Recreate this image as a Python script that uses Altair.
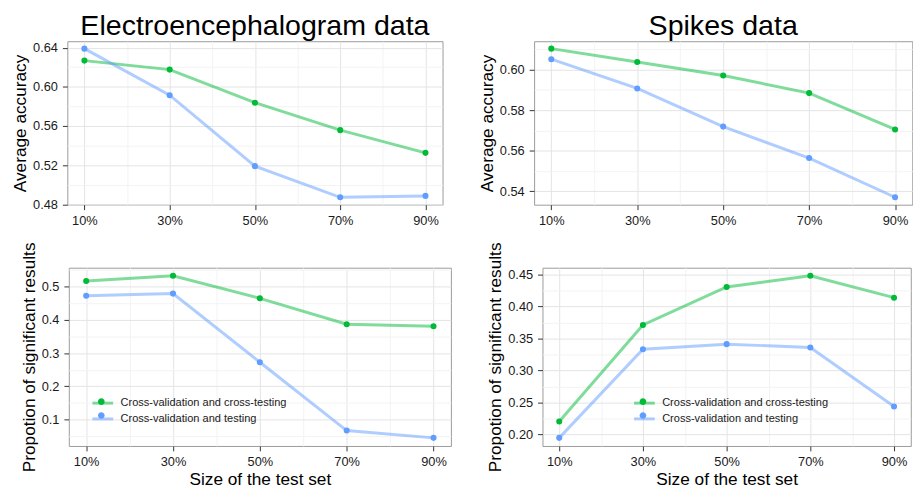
import altair as alt
import pandas as pd

# ---------------- data ----------------
sizes = [10, 30, 50, 70, 90]
series_names = ["Cross-validation and cross-testing", "Cross-validation and testing"]
series_colors = ["#00BA38", "#619CFF"]

eeg_acc_cvct = [0.6268, 0.6176, 0.5838, 0.5557, 0.5325]
eeg_acc_cvt = [0.6390, 0.5914, 0.5189, 0.4871, 0.4885]
spk_acc_cvct = [0.6103, 0.6037, 0.5971, 0.5884, 0.5705]
spk_acc_cvt = [0.6051, 0.5907, 0.5719, 0.5564, 0.5371]
eeg_sig_cvct = [0.5171, 0.5326, 0.4649, 0.3869, 0.3810]
eeg_sig_cvt = [0.4726, 0.4791, 0.2726, 0.0669, 0.0450]
spk_sig_cvct = [0.2202, 0.3712, 0.4306, 0.4480, 0.4138]
spk_sig_cvt = [0.1945, 0.3331, 0.3411, 0.3360, 0.2435]

x_breaks = [10, 20, 30, 40, 50, 60, 70, 80, 90]
x_major = [10, 30, 50, 70, 90]
eeg_acc_major = [0.48, 0.52, 0.56, 0.60, 0.64]
spk_acc_major = [0.54, 0.56, 0.58, 0.60]
eeg_sig_major = [0.1, 0.2, 0.3, 0.4, 0.5]
spk_sig_major = [0.20, 0.25, 0.30, 0.35, 0.40, 0.45]

FONT = "Liberation Sans"
MAJOR_GRID = "#e4e4e4"
MINOR_GRID = "#f3f3f3"


def major_test(majors, dec):
    parts = ["format(datum.value, '.%df') == '%s'" % (dec, format(m, ".%df" % dec)) for m in majors]
    return "(" + " || ".join(parts) + ")"


def panel(vals_a, vals_b, majors, lab_dec, ytitle, xtitle, title, w, h, legend_xy=None):
    n = len(sizes)
    df = pd.DataFrame({
        "size": sizes * 2,
        "value": vals_a + vals_b,
        "series": [series_names[0]] * n + [series_names[1]] * n,
    })
    # the point layer gets its own label-less legend; a distinct domain keeps
    # Vega-Lite from merging it with the line legend
    df["series_pt"] = df["series"] + " "
    lo, hi = min(vals_a + vals_b), max(vals_a + vals_b)
    pad = 0.05 * (hi - lo)
    dom = [lo - pad, hi + pad]
    step = majors[1] - majors[0]
    cand = [majors[0] - step / 2] + [m + step / 2 for m in majors]
    minors = [c for c in cand if dom[0] <= c <= dom[1]]
    yvals = sorted(majors + minors)

    ytest = major_test(majors, 4)
    xtest = major_test(x_major, 1)

    x_axis_kw = dict(
        values=x_breaks,
        labelExpr="%s ? datum.value + '%%' : ''" % xtest,
        gridColor={"condition": {"test": xtest, "value": MAJOR_GRID}, "value": MINOR_GRID},
        tickOpacity={"condition": {"test": xtest, "value": 1}, "value": 0},
        labelFlush=False,
        labelOverlap=False,
    )
    x_axis_kw["title"] = xtitle if xtitle else None

    x = alt.X("size:Q", scale=alt.Scale(domain=[6, 94], nice=False, zero=False),
              axis=alt.Axis(**x_axis_kw))
    y = alt.Y("value:Q", scale=alt.Scale(domain=dom, nice=False, zero=False),
              axis=alt.Axis(
                  values=yvals,
                  title=ytitle,
                  labelExpr="%s ? format(datum.value, '.%df') : ''" % (ytest, lab_dec),
                  gridColor={"condition": {"test": ytest, "value": MAJOR_GRID}, "value": MINOR_GRID},
                  tickOpacity={"condition": {"test": ytest, "value": 1}, "value": 0},
                  labelOverlap=False,
              ))

    sc_line = alt.Scale(domain=series_names, range=series_colors)
    sc_pt = alt.Scale(domain=[s + " " for s in series_names], range=series_colors)
    if legend_xy is not None:
        lx, ly = legend_xy
        common = dict(title=None, orient="none", legendX=lx, legendY=ly, padding=0,
                      direction="vertical", labelFont=FONT, labelFontSize=11.2,
                      labelColor="#1a1a1a", symbolSize=196, labelOffset=9.5, rowPadding=1,
                      labelLimit=400)
        stroke_leg = alt.Legend(symbolType="M-1.5,0H1.5", symbolStrokeWidth=3,
                                symbolOpacity=0.5, **common)
        fill_leg = alt.Legend(
            symbolType="M-0.48,0A0.48,0.48,0,1,1,0.48,0A0.48,0.48,0,1,1,-0.48,0Z",
            symbolStrokeWidth=0, symbolOpacity=1, labelExpr="''", **common)
        stroke_enc = alt.Stroke("series:N", scale=sc_line, legend=stroke_leg)
        fill_enc = alt.Fill("series_pt:N", scale=sc_pt, legend=fill_leg)
    else:
        stroke_enc = alt.Stroke("series:N", scale=sc_line, legend=None)
        fill_enc = alt.Fill("series_pt:N", scale=sc_pt, legend=None)

    base = alt.Chart(df)
    lines = base.mark_line(strokeWidth=3, opacity=0.5).encode(x=x, y=y, stroke=stroke_enc,
                                                              detail="series:N")
    pts = base.mark_circle(size=38, opacity=1).encode(x=x, y=y, fill=fill_enc)
    ch = alt.layer(lines, pts).properties(width=w, height=h)
    if title:
        ch = ch.properties(title=alt.TitleParams(title, font=FONT, fontSize=29,
                                                 fontWeight="normal", color="#000000",
                                                 anchor="middle", frame="group", offset=0))
    return ch


tl = panel(eeg_acc_cvct, eeg_acc_cvt, eeg_acc_major, 2, "Average accuracy", None,
           "Electroencephalogram data", 381, 166)
tr = panel(spk_acc_cvct, spk_acc_cvt, spk_acc_major, 2, "Average accuracy", None,
           "Spikes data", 384, 166)
bl = panel(eeg_sig_cvct, eeg_sig_cvt, eeg_sig_major, 1, "Propotion of significant results",
           "Size of the test set", None, 388, 181, legend_xy=(26, 129))
br = panel(spk_sig_cvct, spk_sig_cvt, spk_sig_major, 2, "Propotion of significant results",
           "Size of the test set", None, 374, 181, legend_xy=(95, 129))

res = dict(stroke="independent", fill="independent")
top = alt.hconcat(tl, tr, spacing=35).resolve_scale(**res)
bottom = alt.hconcat(bl, br, spacing=35).resolve_scale(**res)

chart = alt.vconcat(
    top, bottom, spacing=13, center=True,
).resolve_scale(
    **res
).properties(
    padding={"left": 3, "top": 0, "right": 0, "bottom": 0},
).configure_view(
    stroke="#9a9a9a", strokeWidth=1
).configure_axis(
    labelFont=FONT, labelFontSize=13, labelColor="#1a1a1a",
    titleFont=FONT, titleFontSize=17.5, titleFontWeight="normal", titleColor="#000000",
    domain=False, tickColor="#333333", tickSize=5, labelPadding=5, titlePadding=3,
).configure_axisX(
    titlePadding=2,
)

chart.save("out.html", embed_options={"renderer": "svg", "actions": False})
